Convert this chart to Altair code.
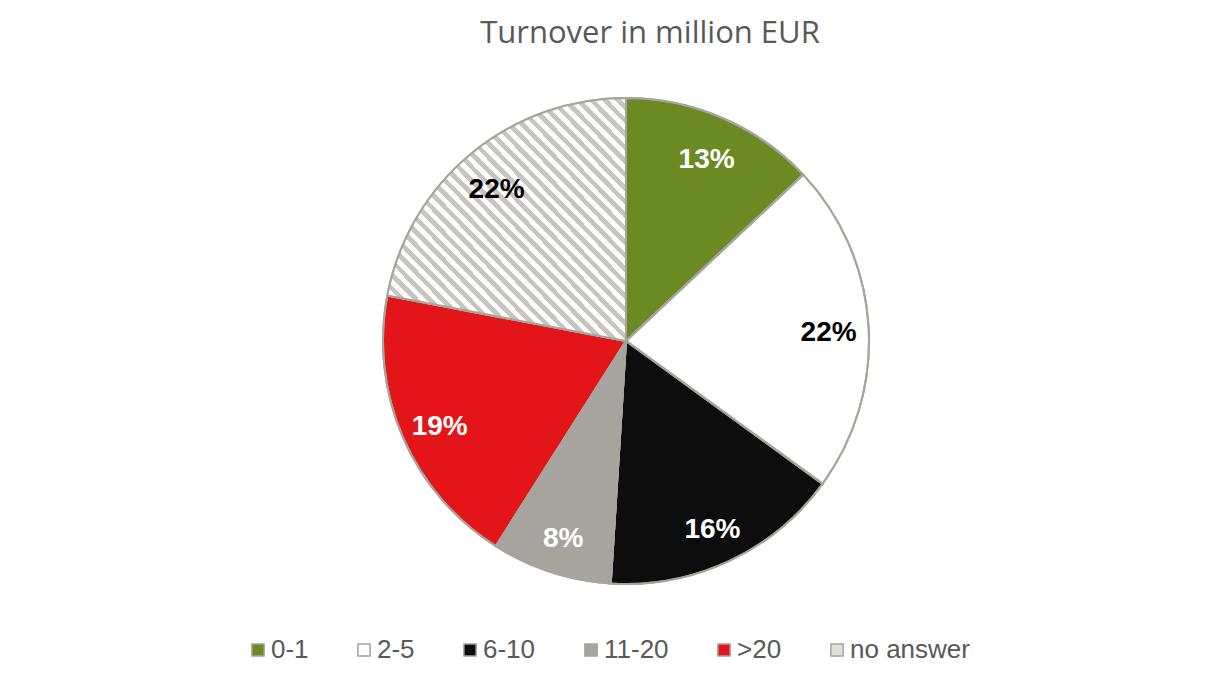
import altair as alt
import pandas as pd

# ---- data ----
categories = ["0-1", "2-5", "6-10", "11-20", ">20", "no answer"]
shares = [13, 22, 16, 8, 19, 22]
order_idx = [0, 1, 2, 3, 4, 5]
title_text = "Turnover in million EUR"

# ---- styles ----
slice_colors = ["#6b8a23", "#ffffff", "#0d0d0d", "#a7a49e", "#e31519", "#e3e0db"]
outline = "#a7a49e"
dark_label_cats = ["2-5", "no answer"]

df = pd.DataFrame({"cat": categories, "value": shares, "idx": order_idx})

CX, CY, R = 618, 333, 243

# diagonal hatch as a striped linear gradient
n_periods = 36
stops = []
for i in range(n_periods):
    a = i / n_periods
    m = (i + 0.5) / n_periods
    b = (i + 1) / n_periods
    stops += [
        {"offset": a, "color": "#c9c5be"},
        {"offset": m, "color": "#c9c5be"},
        {"offset": m, "color": "#ffffff"},
        {"offset": b, "color": "#ffffff"},
    ]
hatch = {"gradient": "linear", "x1": 0, "y1": 1, "x2": 1, "y2": 0, "stops": stops}

base = alt.Chart(df).transform_calculate(label="datum.value + '%'")

theta = alt.Theta("value:Q", stack=True)
order = alt.Order("idx:Q", sort="ascending")

pie = base.mark_arc(stroke=outline, strokeWidth=2).encode(
    theta=theta,
    order=order,
    x=alt.value(CX),
    y=alt.value(CY),
    radius=alt.value(R),
    fill=alt.Fill(
        "cat:N",
        sort=categories,
        scale=alt.Scale(domain=categories, range=slice_colors),
        legend=alt.Legend(
            orient="none",
            legendX=237,
            legendY=629,
            direction="horizontal",
            title=None,
            symbolType="square",
            symbolSize=150,
            symbolStrokeColor=outline,
            symbolStrokeWidth=1.5,
            labelFont="Liberation Sans",
            labelFontSize=26,
            labelColor="#595959",
            labelOffset=0,
            columnPadding=42,
            padding=0,
        ),
    ),
)

hatched = base.mark_arc(stroke=outline, strokeWidth=2).encode(
    theta=theta,
    order=order,
    x=alt.value(CX),
    y=alt.value(CY),
    radius=alt.value(R),
    fill=alt.condition(
        alt.FieldEqualPredicate(field="cat", equal="no answer"),
        alt.value(hatch),
        alt.value("transparent"),
    ),
)

labels = base.mark_text(
    font="Liberation Sans", fontSize=28, fontWeight="bold", align="center", baseline="middle", dy=5
).encode(
    theta=theta,
    order=order,
    x=alt.value(CX),
    y=alt.value(CY),
    radius=alt.value(203),
    text="label:N",
    color=alt.condition(
        alt.FieldOneOfPredicate(field="cat", oneOf=dark_label_cats),
        alt.value("#000000"),
        alt.value("#ffffff"),
    ),
)

title = alt.Chart(pd.DataFrame({"t": [title_text]})).mark_text(
    font="Open Sans", fontSize=31, color="#595959", align="center", baseline="alphabetic"
).encode(x=alt.value(642), y=alt.value(35), text="t:N")

chart = (
    alt.layer(pie, hatched, labels, title)
    .properties(width=1195, height=664, autosize="none", padding=0, background="white")
    .configure_view(stroke=None)
)

chart.save("out.html", embed_options={"renderer": "svg", "actions": False})
